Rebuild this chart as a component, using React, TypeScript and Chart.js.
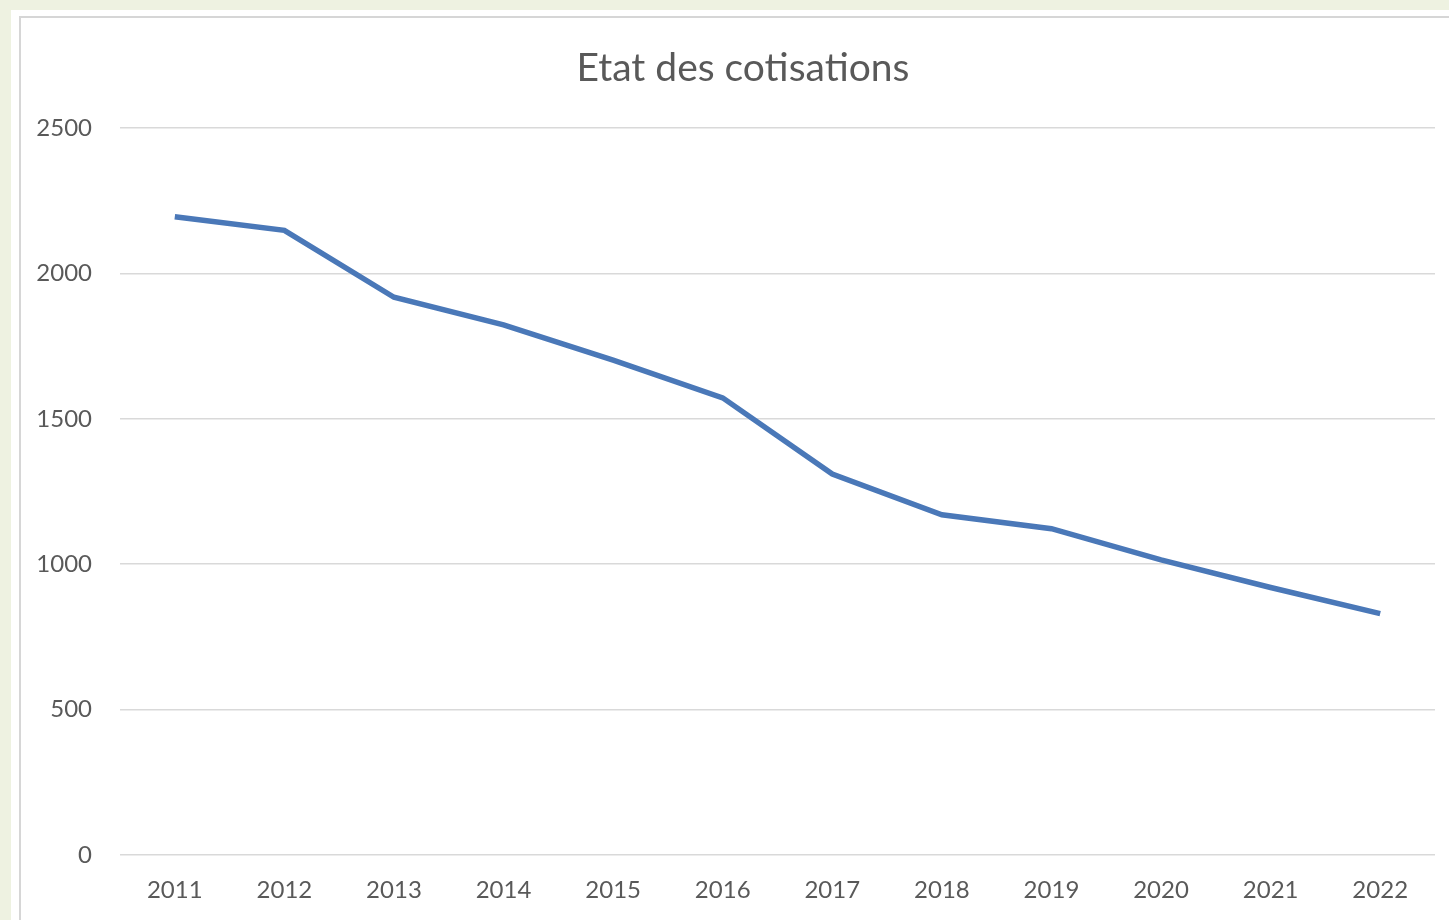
import React, { useEffect, useRef } from "react";
import { Chart, registerables } from "chart.js";

Chart.register(...registerables);

const years = ["2011", "2012", "2013", "2014", "2015", "2016", "2017", "2018", "2019", "2020", "2021", "2022"];
const cotisations = [2195, 2148, 1918, 1823, 1702, 1572, 1310, 1170, 1122, 1015, 920, 830];
const yTicks = [0, 500, 1000, 1500, 2000, 2500];
const chartTitle = "Etat des cotisations";

const FONT = "Lato, 'Open Sans', sans-serif";

export default function App() {
  const ref = useRef<HTMLCanvasElement | null>(null);

  useEffect(() => {
    if (!ref.current) return;
    const chart = new Chart(ref.current, {
      type: "line",
      data: {
        labels: years,
        datasets: [
          {
            label: chartTitle,
            data: cotisations,
            borderColor: "#4a78b8",
            borderWidth: 5.5,
            pointRadius: 0,
            tension: 0,
            fill: false,
          },
        ],
      },
      options: {
        animation: false,
        responsive: false,
        layout: { padding: { left: 30, right: 14, top: 128, bottom: 0 } },
        plugins: {
          legend: { display: false },
          tooltip: { enabled: false },
          title: { display: false },
        },
        scales: {
          x: {
            offset: true,
            grid: { display: false, drawTicks: false },
            border: { display: false },
            ticks: {
              color: "#595959",
              font: { family: FONT, size: 24 },
              padding: 21,
              maxRotation: 0,
            },
            afterFit: (scale: any) => {
              scale.height = 65;
            },
          },
          y: {
            min: 0,
            max: 2500,
            afterBuildTicks: (scale: any) => {
              scale.ticks = yTicks.map((v) => ({ value: v }));
            },
            grid: { color: "#d9d9d9", lineWidth: 1.5, drawTicks: false },
            border: { display: false },
            ticks: {
              color: "#595959",
              font: { family: FONT, size: 24 },
              padding: 28,
              callback: (v: any) => String(v),
            },
            afterFit: (scale: any) => {
              scale.width = 90;
            },
          },
        },
      },
    });
    return () => chart.destroy();
  }, []);

  return (
    <div
      style={{
        position: "fixed",
        left: 0,
        top: 0,
        width: 1449,
        height: 920,
        background: "#eef2e1",
        overflow: "hidden",
      }}
    >
      <div
        style={{
          position: "absolute",
          left: 11,
          top: 10,
          width: 1438,
          height: 910,
          background: "#ffffff",
        }}
      />
      <div style={{ position: "absolute", left: 19, top: 16, width: 1430, height: 2, background: "#d6d6d6" }} />
      <div style={{ position: "absolute", left: 19, top: 16, width: 2, height: 904, background: "#d6d6d6" }} />
      <canvas ref={ref} width={1449} height={920} style={{ position: "absolute", left: 0, top: 0 }} />
      <div
        style={{
          position: "absolute",
          left: 0,
          top: 43,
          width: 1486,
          textAlign: "center",
          fontFamily: FONT,
          fontSize: 39,
          lineHeight: "47px",
          color: "#595959",
          whiteSpace: "nowrap",
        }}
      >
        {chartTitle}
      </div>
    </div>
  );
}
